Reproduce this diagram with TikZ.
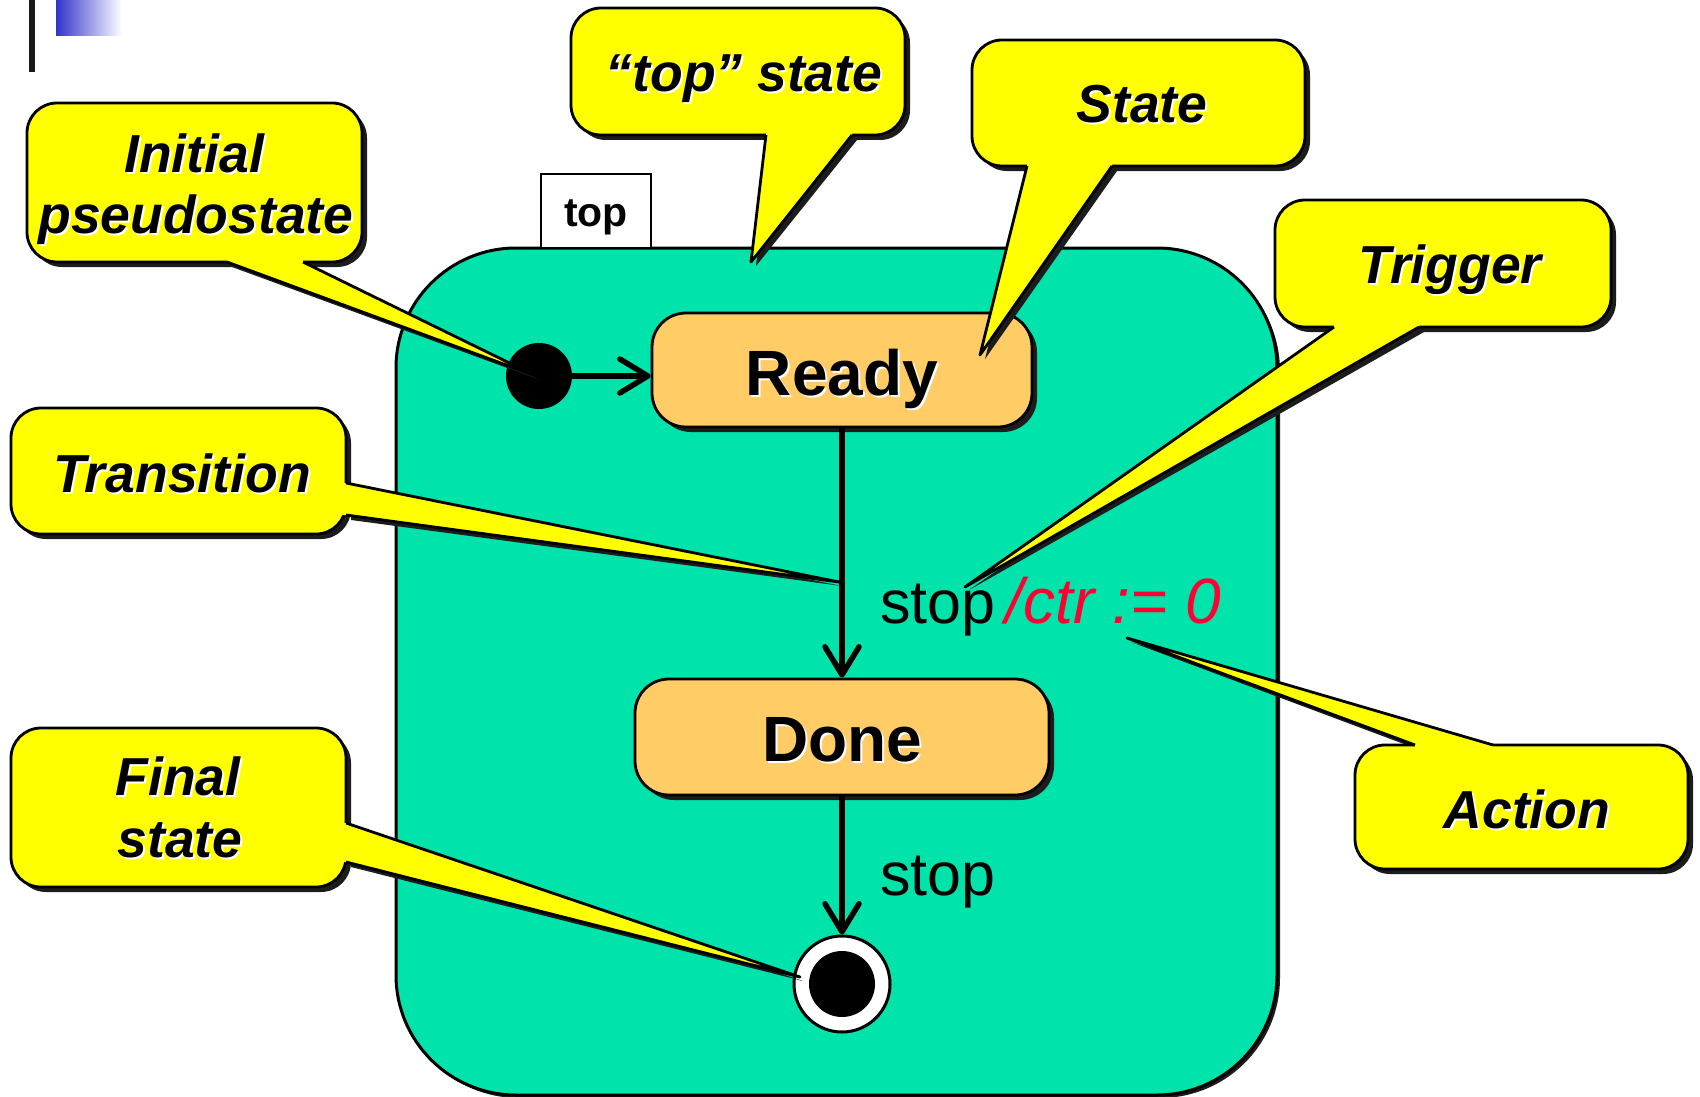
\documentclass[tikz,border=0pt]{standalone}
\usepackage{fontspec}
\setmainfont{Liberation Sans}
\usetikzlibrary{arrows.meta,calc}
\definecolor{topgreen}{RGB}{0,227,170}
\definecolor{stateorange}{RGB}{255,204,102}
\definecolor{callyellow}{RGB}{255,255,0}
\definecolor{actred}{RGB}{255,0,51}
\definecolor{shadowc}{RGB}{28,28,28}
\definecolor{deckblue}{RGB}{51,51,204}
\newcommand{\wsh}[1]{\leavevmode\rlap{\kern2pt\raisebox{-2pt}{\textcolor{white}{#1}}}#1}
\tikzset{
  callbox/.style={draw=black, line width=2.8pt, fill=callyellow, rounded corners=30pt, inner sep=0pt},
  callshadow/.style={fill=shadowc, rounded corners=30pt},
  tailline/.style={draw=black, line width=2.8pt, line join=round},
  calltext/.style={font=\fontsize{53.5}{60}\selectfont\bfseries\itshape, anchor=base, inner sep=0pt},
  statebox/.style={draw=black, line width=2.8pt, fill=stateorange, rounded corners=34pt, inner sep=0pt},
  statetext/.style={font=\fontsize{64}{72}\selectfont\bfseries, inner sep=0pt, text depth=0pt},
  trans/.style={line width=5.5pt, -{Straight Barb[length=28pt,width=34pt,round]}},
  lbl/.style={font=\fontsize{61}{68}\selectfont, anchor=base west, inner sep=0pt},
}
\begin{document}
\begin{tikzpicture}[x=1pt,y=-1pt]
\useasboundingbox (0,0) rectangle (1700,1097);
\fill[white] (0,0) rectangle (1700,1097);
% slide decoration
\fill[black!90] (29,0) rectangle (35,72);
\shade[left color=deckblue, right color=white] (56,0) rectangle (122,36);
% top state
\fill[shadowc, rounded corners=120pt] (399,251) rectangle (1280,1098);
\draw[fill=topgreen, line width=3pt, rounded corners=120pt] (396,248) rectangle (1277,1095);
\node[draw=black, line width=2.5pt, fill=white, minimum width=110pt, minimum height=74pt, inner sep=0pt] (tab) at (596,211) {};
\node[font=\fontsize{41}{46}\selectfont\bfseries, anchor=base, inner sep=0pt] (tabtext) at (596,226) {top};
% states
\fill[shadowc, rounded corners=34pt] (657,318) rectangle (1037,432);
\node[statebox, minimum width=380pt, minimum height=114pt] (Ready) at (842,370) {};
\node[statetext] (ReadyText) at (842,372) {\wsh{Ready}};
\fill[shadowc, rounded corners=34pt] (640,684) rectangle (1054,800);
\node[statebox, minimum width=414pt, minimum height=116pt] (Done) at (842,737) {};
\node[statetext] (DoneText) at (842,739) {\wsh{Done}};
\node[circle, fill=black, minimum size=66pt, inner sep=0pt] (init) at (539,376) {};
\node[circle, draw=black, line width=3pt, fill=white, minimum size=96pt, inner sep=0pt] (final) at (842,984) {};
\node[circle, fill=black, minimum size=66pt, inner sep=0pt] (finaldot) at (final) {};
% transitions
\draw[trans] (init.east) -- (init.east -| Ready.west);
\draw[trans] (Ready.south) -- (Done.north);
\draw[trans] (Done.south) -- (final.north);
\node[lbl] (lab1) at (880,623) {stop\,{\color{actred}\fontsize{64}{70}\selectfont\itshape /ctr := 0}};
\node[lbl] (lab2) at (880,895) {stop};
% ---- callout: Initial pseudostate
\coordinate (iA) at (227,262); \coordinate (iB) at (303,262); \coordinate (iT) at (536,376);
\fill[shadowc] ($(iA)+(5,5)$) -- ($(iT)+(4,4)$) -- ($(iB)+(5,5)$) -- cycle;
\fill[callshadow] (32,108) rectangle (367,267);
\node[callbox, minimum width=335pt, minimum height=159pt] (cInit) at (194.5,182.5) {};
\fill[callyellow] ($(iA)+(0,-8)$) -- (iA) -- (iT) -- (iB) -- ($(iB)+(0,-8)$) -- cycle;
\draw[tailline] (iA) -- (iT) -- (iB);
\node[calltext] (tInit1) at (194,172) {\wsh{Initial}};
\node[calltext] (tInit2) at (196,233) {\wsh{pseudostate}};
% ---- callout: "top" state
\coordinate (pA) at (766,135); \coordinate (pB) at (852,135); \coordinate (pT) at (751,262);
\fill[shadowc] ($(pA)+(5,5)$) -- ($(pT)+(5,4)$) -- ($(pB)+(5,5)$) -- cycle;
\fill[callshadow] (576,13) rectangle (910,140);
\node[callbox, minimum width=334pt, minimum height=127pt] (cTop) at (738,71.5) {};
\fill[callyellow] ($(pA)+(0,-8)$) -- (pA) -- (pT) -- (pB) -- ($(pB)+(0,-8)$) -- cycle;
\draw[tailline] (pA) -- (pT) -- (pB);
\node[calltext] (tTop) at (744,92) {\wsh{“top” state}};
% ---- callout: State
\coordinate (sA) at (1027,166); \coordinate (sB) at (1112,166); \coordinate (sT) at (980,355);
\fill[shadowc] ($(sA)+(5,5)$) -- ($(sT)+(5,4)$) -- ($(sB)+(5,5)$) -- cycle;
\fill[callshadow] (977,45) rectangle (1310,171);
\node[callbox, minimum width=333pt, minimum height=126pt] (cState) at (1138.5,103) {};
\fill[callyellow] ($(sA)+(0,-8)$) -- (sA) -- (sT) -- (sB) -- ($(sB)+(0,-8)$) -- cycle;
\draw[tailline] (sA) -- (sT) -- (sB);
\node[calltext] (tState) at (1142,123) {\wsh{State}};
% ---- callout: Trigger
\coordinate (gA) at (1334,327); \coordinate (gB) at (1419,327); \coordinate (gT) at (965,587);
\fill[shadowc] ($(gA)+(5,5)$) -- ($(gT)+(4,3)$) -- ($(gB)+(5,5)$) -- cycle;
\fill[callshadow] (1280,205) rectangle (1616,332);
\node[callbox, minimum width=336pt, minimum height=127pt] (cTrig) at (1443,263.5) {};
\fill[callyellow] ($(gA)+(0,-8)$) -- (gA) -- (gT) -- (gB) -- ($(gB)+(0,-8)$) -- cycle;
\draw[tailline] (gA) -- (gT) -- (gB);
\node[calltext] (tTrig) at (1450,283) {\wsh{Trigger}};
% ---- callout: Transition
\coordinate (rA) at (346,483); \coordinate (rB) at (346,515); \coordinate (rT) at (839,582);
\fill[shadowc] ($(rA)+(5,5)$) -- ($(rT)+(3,4)$) -- ($(rB)+(5,5)$) -- cycle;
\fill[callshadow] (16,413) rectangle (351,539);
\node[callbox, minimum width=335pt, minimum height=126pt] (cTrans) at (178.5,471) {};
\fill[callyellow] ($(rA)+(-8,0)$) -- (rA) -- (rT) -- (rB) -- ($(rB)+(-8,0)$) -- cycle;
\draw[tailline] (rA) -- (rT) -- (rB);
\node[calltext] (tTrans) at (182,492) {\wsh{Transition}};
% ---- callout: Final state
\coordinate (fA) at (346,823); \coordinate (fB) at (346,862); \coordinate (fT) at (800,977);
\fill[shadowc] ($(fA)+(5,5)$) -- ($(fT)+(3,4)$) -- ($(fB)+(5,5)$) -- cycle;
\fill[callshadow] (16,733) rectangle (351,892);
\node[callbox, minimum width=335pt, minimum height=159pt] (cFinal) at (178.5,807.5) {};
\fill[callyellow] ($(fA)+(-8,0)$) -- (fA) -- (fT) -- (fB) -- ($(fB)+(-8,0)$) -- cycle;
\draw[tailline] (fA) -- (fT) -- (fB);
\node[calltext] (tFinal1) at (178,795) {\wsh{Final}};
\node[calltext] (tFinal2) at (180,857) {\wsh{state}};
% ---- callout: Action
\coordinate (aA) at (1415,745); \coordinate (aB) at (1493,745); \coordinate (aT) at (1127,638);
\fill[shadowc] ($(aA)+(5,5)$) -- ($(aT)+(4,4)$) -- ($(aB)+(5,5)$) -- cycle;
\fill[callshadow] (1360,750) rectangle (1693,874);
\node[callbox, minimum width=333pt, minimum height=124pt] (cAction) at (1521.5,807) {};
\fill[callyellow] ($(aA)+(0,8)$) -- (aA) -- (aT) -- (aB) -- ($(aB)+(0,8)$) -- cycle;
\draw[tailline] (aA) -- (aT) -- (aB);
\node[calltext] (tAction) at (1527,828) {\wsh{Action}};
\end{tikzpicture}
\end{document}
